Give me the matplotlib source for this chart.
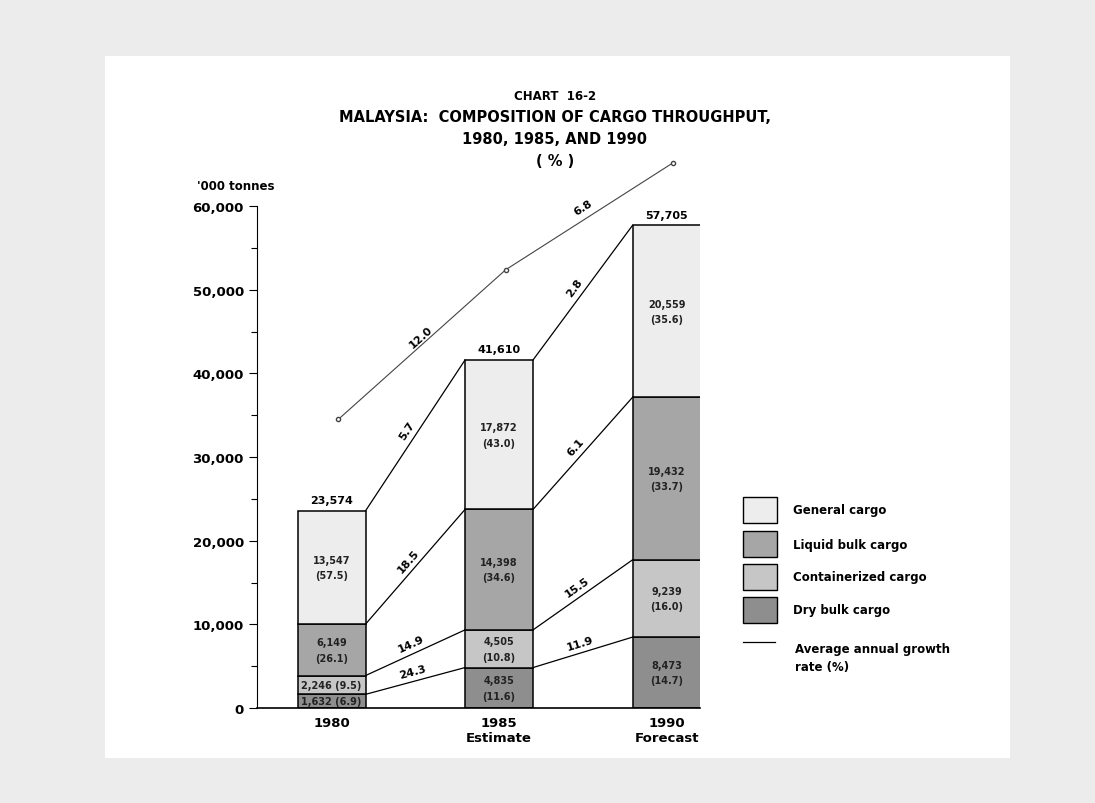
import numpy as np
import matplotlib.pyplot as plt
from matplotlib.patches import Rectangle
from matplotlib.lines import Line2D

plt.rcParams['font.family'] = ['DejaVu Sans']
plt.rcParams['font.weight'] = 'bold'

years = ['1980', '1985\nEstimate', '1990\nForecast']
cargo = ['Dry bulk cargo', 'Containerized cargo', 'Liquid bulk cargo', 'General cargo']

# '000 tonnes, bottom to top
dry_bulk = [1632, 4835, 8473]
containerized = [2246, 4505, 9239]
liquid_bulk = [6149, 14398, 19432]
general = [13547, 17872, 20559]
totals = [23574, 41610, 57705]

# shares of total (%)
dry_pct = [6.9, 11.6, 14.7]
cont_pct = [9.5, 10.8, 16.0]
liq_pct = [26.1, 34.6, 33.7]
gen_pct = [57.5, 43.0, 35.6]

# average annual growth rate (%) 1980-85, 1985-90
dry_growth = [24.3, 11.9]
cont_growth = [14.9, 15.5]
liq_growth = [18.5, 6.1]
gen_growth = [5.7, 2.8]
total_growth = [12.0, 6.8]
# total growth line floats above the bars at these heights
total_line = [34500, 52400, 65200]

colors = ['#8e8e8e', '#c6c6c6', '#a6a6a6', '#ededed']

W, H = 1095, 804
fig = plt.figure(figsize=(W / 100, H / 100), dpi=100, facecolor='#ececec')
fig.add_artist(Rectangle((105 / W, 1 - 759 / H), (1010 - 105) / W, (759 - 57) / H,
                         transform=fig.transFigure, facecolor='white',
                         edgecolor='none', zorder=-1))

ax = fig.add_axes([257 / W, 95 / H, (700 - 257) / W, 552 / H])
ax.patch.set_alpha(0)
ax.set_xlim(-0.445, 2.2)
ax.set_ylim(0, 66000)
for s in ['top', 'right']:
    ax.spines[s].set_visible(False)
ax.spines['left'].set_bounds(0, 60000)
ax.spines['left'].set_linewidth(0.8)
ax.spines['bottom'].set_linewidth(1.2)

ax.set_yticks(np.arange(0, 60001, 10000))
ax.set_yticks(np.arange(5000, 60000, 10000), minor=True)
ax.set_yticklabels([f'{v:,}' for v in range(0, 60001, 10000)], fontsize=9.5)
ax.tick_params(axis='y', which='major', length=6, width=0.8)
ax.tick_params(axis='y', which='minor', length=4, width=0.8)

x = np.arange(3)
w = 0.406
ax.set_xticks(x)
ax.set_xticklabels(years, fontsize=9.5, linespacing=1.2)
ax.tick_params(axis='x', length=0, pad=6)

series = [dry_bulk, containerized, liquid_bulk, general]
pcts = [dry_pct, cont_pct, liq_pct, gen_pct]
bottom = np.zeros(3)
tops = []
for k, vals in enumerate(series):
    vals = np.array(vals)
    ax.bar(x, vals, w, bottom=bottom, color=colors[k], edgecolor='black',
           linewidth=1.1, zorder=2)
    for i in range(3):
        yc = bottom[i] + vals[i] / 2
        if vals[i] < 3000:
            txt = f'{vals[i]:,} ({pcts[k][i]})'
        else:
            txt = f'{vals[i]:,}\n({pcts[k][i]})'
        ax.text(x[i], yc, txt, ha='center', va='center', fontsize=7,
                color='#222222', linespacing=1.7, zorder=3)
    bottom = bottom + vals
    tops.append(bottom.copy())

for i in range(3):
    ax.text(x[i], totals[i] + 700, f'{totals[i]:,}', ha='center', va='bottom',
            fontsize=8, zorder=3)

fig.canvas.draw()


def label_line(x0, y0, x1, y1, text, frac=0.5, off=8):
    p0 = ax.transData.transform((x0, y0))
    p1 = ax.transData.transform((x1, y1))
    ang = np.degrees(np.arctan2(p1[1] - p0[1], p1[0] - p0[0]))
    a = np.radians(ang)
    xm = x0 + (x1 - x0) * frac
    ym = y0 + (y1 - y0) * frac
    ax.annotate(text, xy=(xm, ym), xytext=(-np.sin(a) * off, np.cos(a) * off),
                textcoords='offset points', rotation=ang, rotation_mode='anchor',
                ha='center', va='center', fontsize=8, zorder=4)


growths = [dry_growth, cont_growth, liq_growth, gen_growth]
for k in range(4):
    t = tops[k]
    for i in range(2):
        xa, xb = x[i] + w / 2, x[i + 1] - w / 2
        ax.plot([xa, xb], [t[i], t[i + 1]], color='black', lw=0.9, zorder=1)
        label_line(xa, t[i], xb, t[i + 1], f'{growths[k][i]:.1f}', off=7)

xt = x + 0.04
ax.plot(xt, total_line, color='#444444', lw=0.8, marker='o', ms=3,
        mfc='white', mec='#444444', clip_on=False, zorder=1)
label_line(xt[0], total_line[0], xt[1], total_line[1], f'{total_growth[0]:.1f}',
           frac=0.52, off=5)
label_line(xt[1], total_line[1], xt[2], total_line[2], f'{total_growth[1]:.1f}',
           frac=0.5, off=8)

# titles
cx = 555 / W
fig.text(cx, 1 - 97 / H, 'CHART  16-2', ha='center', va='center', fontsize=8.5)
fig.text(cx, 1 - 118 / H, 'MALAYSIA:  COMPOSITION OF CARGO THROUGHPUT,',
         ha='center', va='center', fontsize=10.5)
fig.text(cx, 1 - 140 / H, '1980, 1985, AND 1990', ha='center', va='center',
         fontsize=10.5)
fig.text(cx, 1 - 161 / H, '( % )', ha='center', va='center', fontsize=10.5)
fig.text(197 / W, 1 - 186 / H, "'000 tonnes", ha='left', va='center', fontsize=8.5)

# legend, drawn by hand
leg_y = [511, 545, 578, 611]
leg_order = [3, 2, 1, 0]
for yy, k in zip(leg_y, leg_order):
    fig.add_artist(Rectangle((743 / W, 1 - (yy + 13) / H), 34 / W, 26 / H,
                             transform=fig.transFigure, facecolor=colors[k],
                             edgecolor='black', linewidth=1.0))
    fig.text(793 / W, 1 - yy / H, cargo[k], ha='left', va='center', fontsize=8.5)
fig.add_artist(Line2D([743 / W, 775 / W], [1 - 643 / H, 1 - 643 / H],
                      transform=fig.transFigure, color='black', lw=0.9))
fig.text(795 / W, 1 - 643 / H, 'Average annual growth\nrate (%)', ha='left',
         va='top', fontsize=8.5, linespacing=1.5)

fig.savefig('out.png', dpi=100, facecolor=fig.get_facecolor())
